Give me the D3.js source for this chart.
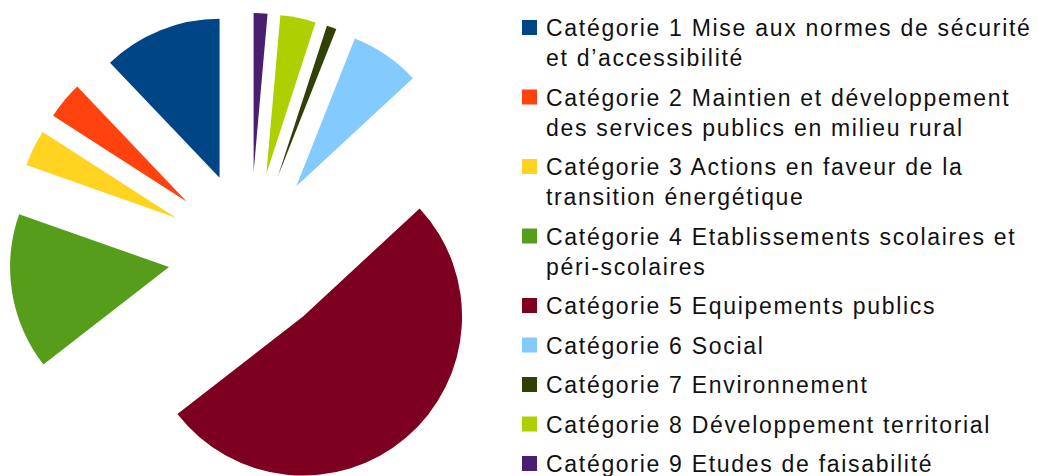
<!DOCTYPE html>
<html>
<head>
<meta charset="utf-8">
<script src="https://cdn.jsdelivr.net/npm/d3@7"></script>
<style>
  body { margin: 0; background: #fff; }
  text { font-family: "Liberation Sans", Arial, sans-serif; }
</style>
</head>
<body>
<div id="chart"></div>
<script>
const width = 1039;
const height = 476;

const categories = [
  ["Catégorie 1 Mise aux normes de sécurité", "et d’accessibilité"],
  ["Catégorie 2 Maintien et développement", "des services publics en milieu rural"],
  ["Catégorie 3 Actions en faveur de la", "transition énergétique"],
  ["Catégorie 4 Etablissements scolaires et", "péri-scolaires"],
  ["Catégorie 5 Equipements publics"],
  ["Catégorie 6 Social"],
  ["Catégorie 7 Environnement"],
  ["Catégorie 8 Développement territorial"],
  ["Catégorie 9 Etudes de faisabilité"]
];
// share of total, in %
const values = [12.1, 3.8, 3.7, 15.9, 51.4, 7.1, 1.0, 3.6, 1.4];
const colors = ["#004586", "#ff420e", "#ffd320", "#579d1c", "#7e0021",
                "#83caff", "#314004", "#aecf00", "#4b1f6f"];

const PIE = { CX: 250, CY: 254, R: 159, EXPLODE: 82 };

let svg = d3.select("#chart")
  .append("svg")
  .attr("width", width)
  .attr("height", height);

// slices go counter-clockwise from 12 o'clock, each one pushed out along its middle
let pie = d3.pie()
  .sort(null)
  .startAngle(0)
  .endAngle(-2 * Math.PI);

let arc = d3.arc()
  .innerRadius(0)
  .outerRadius(PIE.R);

svg.append("g")
  .attr("transform", "translate(" + PIE.CX + "," + PIE.CY + ")")
  .selectAll("path")
  .data(pie(values))
  .enter()
  .append("path")
  .attr("d", arc)
  .attr("fill", (d, i) => colors[i])
  .attr("transform", function (d) {
    let m = (d.startAngle + d.endAngle) / 2;
    return "translate(" + (PIE.EXPLODE * Math.sin(m)) + "," + (-PIE.EXPLODE * Math.cos(m)) + ")";
  });

// legend
const LINE_H = 30;
const GAP = 9.5;
let legend = svg.append("g");
let y = 36;
categories.forEach(function (lines, i) {
  legend.append("rect")
    .attr("x", 522)
    .attr("y", y - 16)
    .attr("width", 15)
    .attr("height", 15)
    .attr("fill", colors[i]);
  lines.forEach(function (line, j) {
    legend.append("text")
      .attr("x", 546)
      .attr("y", y + j * LINE_H)
      .attr("font-size", 23)
      .attr("letter-spacing", 1.7)
      .attr("fill", "#111")
      .text(line);
  });
  y += lines.length * LINE_H + GAP;
});
</script>
</body>
</html>
